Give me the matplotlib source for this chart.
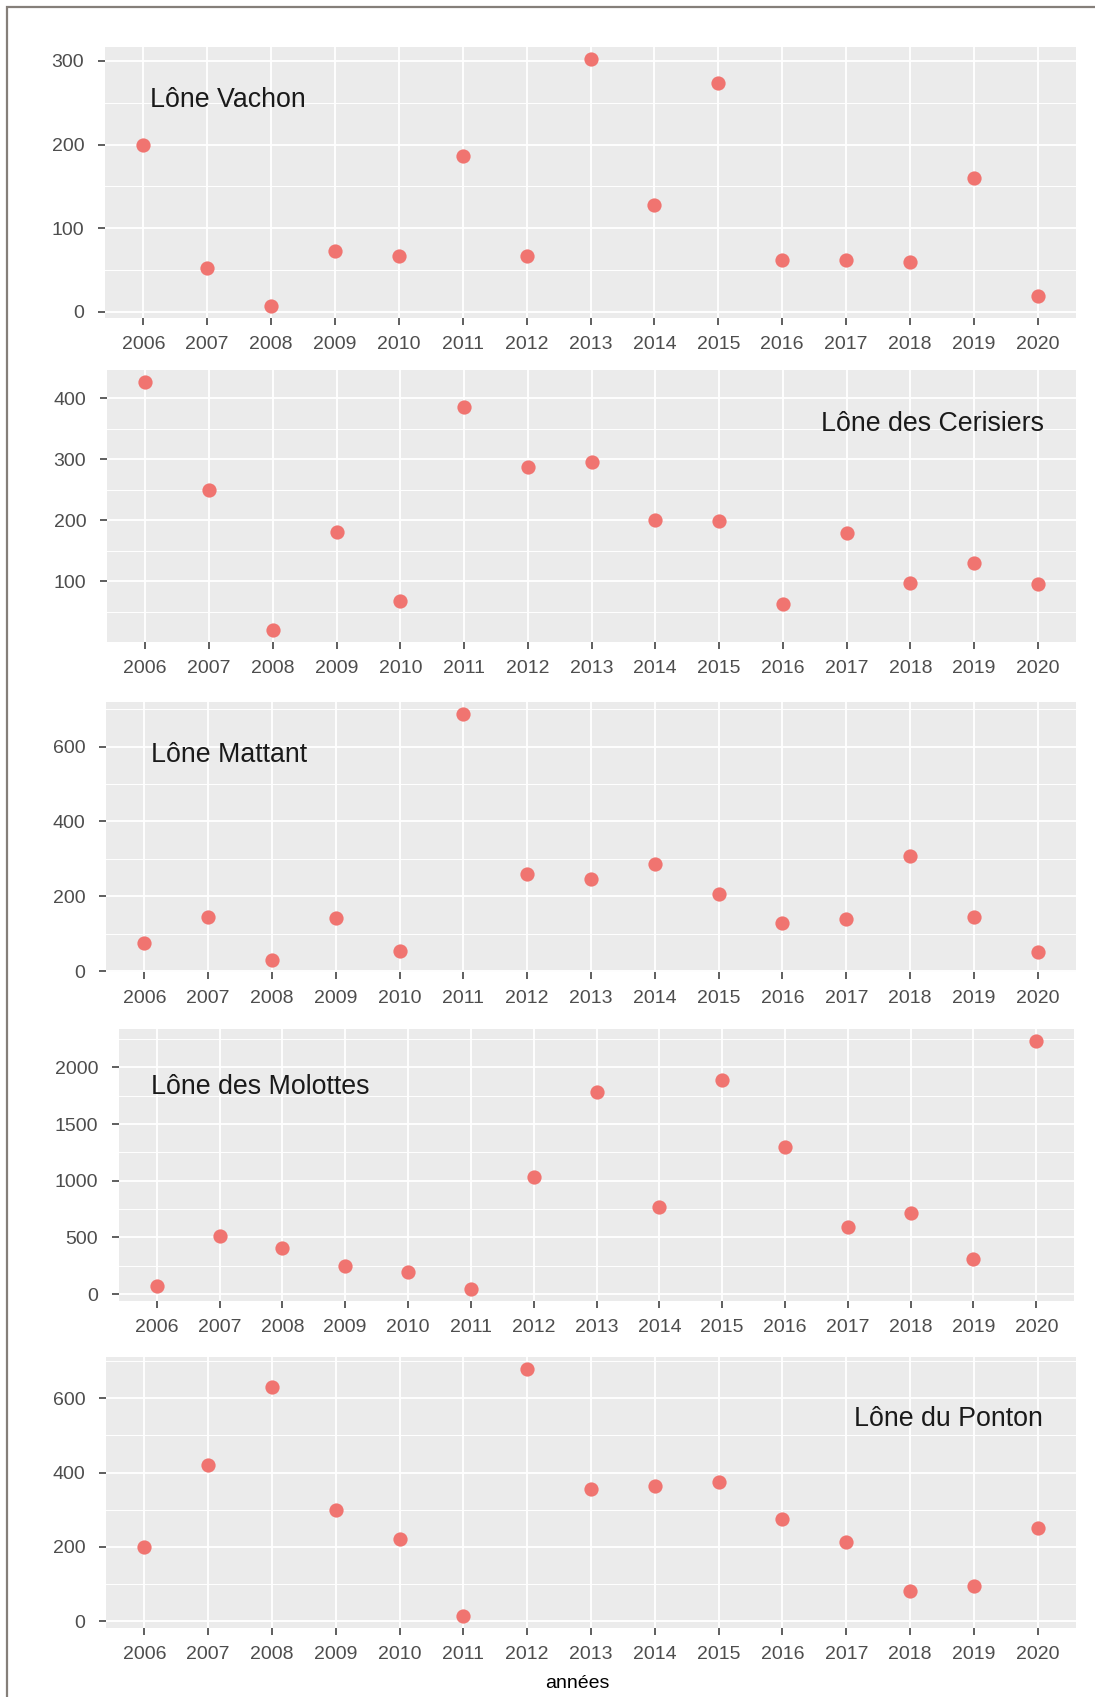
import matplotlib
matplotlib.use("Agg")
import matplotlib.pyplot as plt
from matplotlib.ticker import MultipleLocator
from matplotlib.patches import Rectangle

plt.rcParams["font.family"] = ["Liberation Sans", "DejaVu Sans"]

years = [2006, 2007, 2008, 2009, 2010, 2011, 2012, 2013, 2014, 2015, 2016, 2017, 2018, 2019, 2020]
vachon = [200, 52, 7, 73, 67, 186, 67, 302, 128, 274, 62, 62, 59, 160, 19]
cerisiers = [426, 250, 21, 181, 68, 386, 287, 296, 201, 199, 63, 180, 97, 130, 95]
mattant = [76, 144, 31, 143, 53, 686, 260, 246, 286, 206, 129, 140, 309, 146, 51]
molottes = [68, 513, 410, 248, 191, 48, 1033, 1780, 766, 1885, 1301, 593, 718, 306, 2230]
ponton = [200, 421, 631, 300, 222, 15, 678, 357, 365, 374, 275, 212, 82, 96, 252]

names = ["Lône Vachon", "Lône des Cerisiers", "Lône Mattant", "Lône des Molottes", "Lône du Ponton"]
series = [vachon, cerisiers, mattant, molottes, ponton]
major_steps = [100, 100, 200, 500, 200]

W, H = 1095, 1697
# pixel boxes: left, right, top, bottom
boxes = [(105, 1076, 47, 318), (107, 1076, 370, 642), (106, 1076, 702, 972),
         (119, 1074, 1029, 1301), (106, 1076, 1357, 1628)]
# label position in axes fraction, and alignment
label_pos = [(0.046, 0.806, "left"), (0.967, 0.802, "right"), (0.046, 0.802, "left"),
             (0.033, 0.786, "left"), (0.966, 0.773, "right")]

fig = plt.figure(figsize=(W / 100, H / 100), dpi=100)
fig.patches.append(Rectangle((7 / W, -0.1), 1.2, 1 - 7 / H + 0.1, transform=fig.transFigure,
                             fill=False, edgecolor="#857f7a", linewidth=1.6))

for (l, r, t, b), name, vals, step, (lx, ly, ha) in zip(boxes, names, series, major_steps, label_pos):
    ax = fig.add_axes([l / W, 1 - b / H, (r - l) / W, (b - t) / H])
    ax.set_facecolor("#ebebeb")
    ax.scatter(years, vals, s=105, color="#f07470", zorder=3, linewidths=0)
    ax.set_xlim(2005.4, 2020.6)
    ax.margins(y=0.05)
    ax.set_xticks(years)
    ax.yaxis.set_major_locator(MultipleLocator(step))
    ax.yaxis.set_minor_locator(MultipleLocator(step / 2))
    ax.grid(True, which="major", color="white", linewidth=1.3)
    ax.grid(True, which="minor", axis="y", color="white", linewidth=0.7)
    ax.set_axisbelow(True)
    for s in ax.spines.values():
        s.set_visible(False)
    ax.tick_params(axis="both", which="major", length=5, width=1.1, color="#333333",
                   labelcolor="#4d4d4d", labelsize=14)
    ax.tick_params(axis="x", pad=8)
    ax.tick_params(axis="y", pad=10)
    ax.tick_params(which="minor", length=0)
    ax.text(lx, ly, name, transform=ax.transAxes, ha=ha, va="center", fontsize=19.3, color="#1a1a1a")

fig.text(577 / W, 1 - 1684 / H, "années", ha="center", va="center", fontsize=14, color="black")

fig.savefig("out.png", dpi=100, facecolor="white")
